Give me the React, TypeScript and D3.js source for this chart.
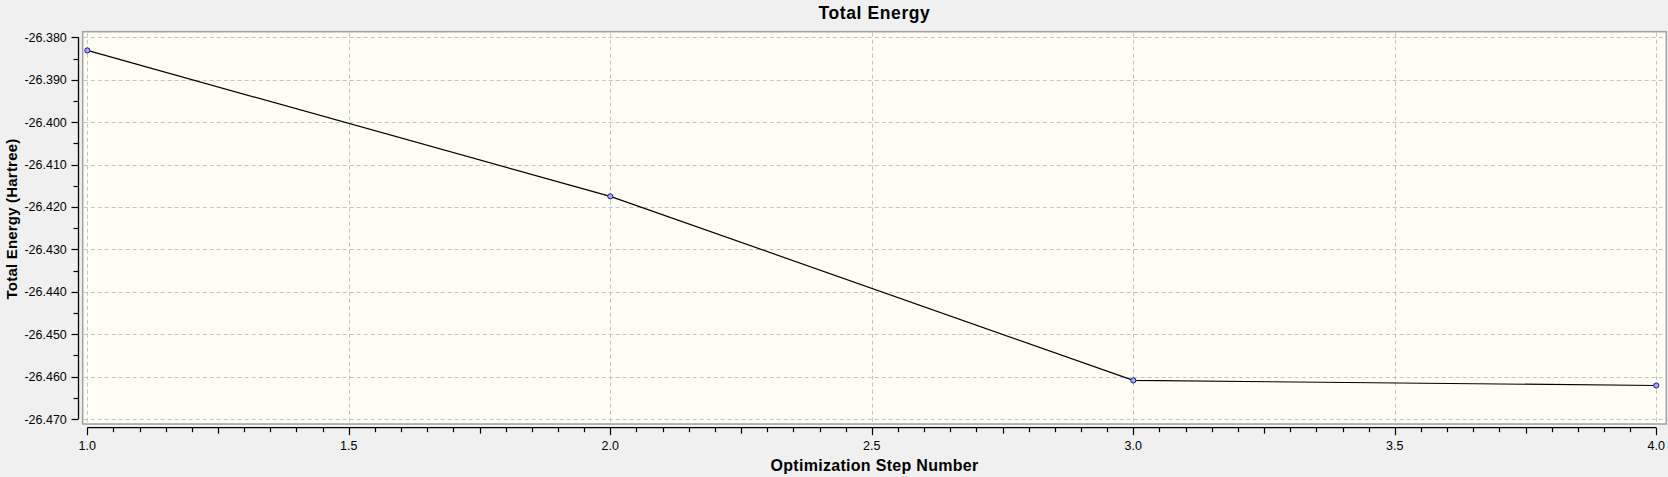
import React from "react";
import * as d3 from "d3";

const steps = [1, 2, 3, 4];
const energies = [-26.3831, -26.4175, -26.4609, -26.4621];
const yTickValues = [-26.38, -26.39, -26.4, -26.41, -26.42, -26.43, -26.44, -26.45, -26.46, -26.47];
const xTickValues = [1.0, 1.5, 2.0, 2.5, 3.0, 3.5, 4.0];
const title = "Total Energy";
const xTitle = "Optimization Step Number";
const yTitle = "Total Energy (Hartree)";

const W = 1668;
const H = 477;
const FONT = "'Liberation Sans', Arial, sans-serif";

export default function App() {
  const x = d3.scaleLinear().domain([1, 4]).range([87.3, 1656.3]);
  const y = d3.scaleLinear().domain([-26.47, -26.38]).range([419, 37.3]);
  const box = { left: 82.7, right: 1666.3, top: 31.7, bottom: 424 };
  const axisY = 427.7;
  const axisX = 78.5;

  const xMinor = d3.range(0, 61).map((i) => 1 + i * 0.05);
  const yMinor = d3.range(0, 19).map((i) => -26.47 + i * 0.005);

  const line = d3
    .line<number>()
    .x((_, i) => x(steps[i]))
    .y((d) => y(d));

  return (
    <svg
      width={W}
      height={H}
      style={{ position: "absolute", left: 0, top: 0, background: "#f0f0f0" }}
    >
      <rect x={0} y={0} width={W} height={H} fill="#f0f0f0" />
      <text
        x={(box.left + box.right) / 2}
        y={19}
        textAnchor="middle"
        fontFamily={FONT}
        fontWeight="bold"
        fontSize={17.5}
        letterSpacing={0.6}
        fill="#000"
      >
        {title}
      </text>
      {/* plot area */}
      <rect
        x={box.left}
        y={box.top}
        width={box.right - box.left}
        height={box.bottom - box.top}
        fill="#fffff6"
        stroke="#a0a0a0"
        strokeWidth={1.5}
      />
      {/* grid */}
      {yTickValues.map((v) => (
        <line
          key={"gy" + v}
          x1={box.left + 1}
          x2={box.right - 1}
          y1={Math.round(y(v)) + 0.5}
          y2={Math.round(y(v)) + 0.5}
          stroke="#c4c4c4"
          strokeDasharray="4,3"
        />
      ))}
      {xTickValues.map((v) => (
        <line
          key={"gx" + v}
          x1={Math.round(x(v)) + 0.5}
          x2={Math.round(x(v)) + 0.5}
          y1={box.top + 1}
          y2={box.bottom - 1}
          stroke="#c4c4c4"
          strokeDasharray="4,3"
        />
      ))}
      {/* data line */}
      <path d={line(energies) || ""} fill="none" stroke="#000" strokeWidth={1.2} />
      {energies.map((e, i) => (
        <circle
          key={"p" + i}
          cx={x(steps[i])}
          cy={y(e)}
          r={2.6}
          fill="#a8a8f0"
          stroke="#1a1a90"
          strokeWidth={1}
        />
      ))}
      {/* y axis */}
      <line x1={axisX} x2={axisX} y1={y(-26.38)} y2={y(-26.47)} stroke="#000" strokeWidth={1.3} />
      {yMinor.map((v, i) => {
        const major = i % 2 === 0;
        return (
          <line
            key={"ty" + i}
            x1={major ? 71.5 : 73.5}
            x2={axisX}
            y1={Math.round(y(v)) + 0.5}
            y2={Math.round(y(v)) + 0.5}
            stroke="#000"
            strokeWidth={1.2}
          />
        );
      })}
      {yTickValues.map((v) => (
        <text
          key={"ly" + v}
          x={66.8}
          y={y(v) + 4.5}
          textAnchor="end"
          fontFamily={FONT}
          fontSize={12.5}
          fill="#000"
        >
          {d3.format(".3f")(v).replace("−", "-")}
        </text>
      ))}
      <text
        transform={`translate(16.8, 219) rotate(-90)`}
        textAnchor="middle"
        fontFamily={FONT}
        fontWeight="bold"
        fontSize={15}
        letterSpacing={0.2}
        fill="#000"
      >
        {yTitle}
      </text>
      {/* x axis */}
      <line x1={x(1)} x2={x(4)} y1={axisY} y2={axisY} stroke="#000" strokeWidth={1.3} />
      {xMinor.map((v, i) => {
        const len = i % 10 === 0 ? 7.5 : i % 5 === 0 ? 6 : 4.5;
        return (
          <line
            key={"tx" + i}
            x1={Math.round(x(v)) + 0.5}
            x2={Math.round(x(v)) + 0.5}
            y1={axisY}
            y2={axisY + len}
            stroke="#000"
            strokeWidth={1.2}
          />
        );
      })}
      {xTickValues.map((v) => (
        <text
          key={"lx" + v}
          x={x(v)}
          y={450}
          textAnchor="middle"
          fontFamily={FONT}
          fontSize={12.5}
          fill="#000"
        >
          {d3.format(".1f")(v)}
        </text>
      ))}
      <text
        x={(box.left + box.right) / 2}
        y={471}
        textAnchor="middle"
        fontFamily={FONT}
        fontWeight="bold"
        fontSize={16}
        letterSpacing={0.3}
        fill="#000"
      >
        {xTitle}
      </text>
    </svg>
  );
}
